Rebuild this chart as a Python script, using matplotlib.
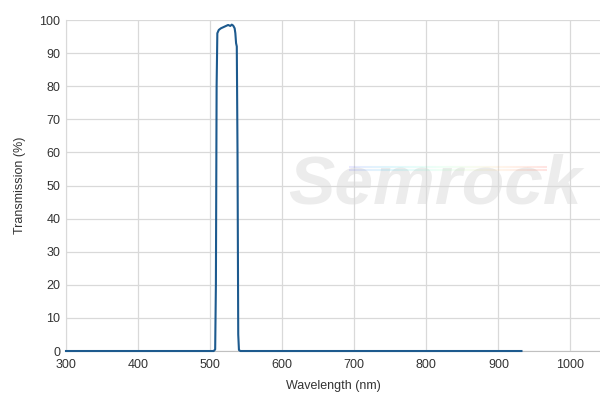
import matplotlib
matplotlib.use("Agg")
import matplotlib.pyplot as plt
import numpy as np
from matplotlib.collections import LineCollection

plt.rcParams["font.family"] = ["Liberation Sans", "DejaVu Sans"]

# transmission curve
wavelength = [300, 505, 507, 508, 509, 510, 512, 515, 518, 520, 523, 525,
              528, 530, 532, 534, 535, 536, 537, 538, 539, 540, 542, 932]
transmission = [0, 0, 0.5, 20, 80, 96, 97, 97.5, 97.8, 98, 98.3, 98.5,
                98.2, 98.6, 98.3, 97.5, 96, 93, 92, 60, 5, 0.3, 0, 0]

x_ticks = [300, 400, 500, 600, 700, 800, 900, 1000]
y_ticks = [0, 10, 20, 30, 40, 50, 60, 70, 80, 90, 100]

fig = plt.figure(figsize=(6.0, 4.05), dpi=100)
fig.patch.set_facecolor("white")
ax = fig.add_axes([0.11, 0.1333, 0.89, 0.8173])
ax.set_facecolor("white")

ax.set_xlim(300, 1041)
ax.set_ylim(0, 100)
ax.set_xticks(x_ticks)
ax.set_yticks(y_ticks)
ax.grid(True, color="#d9d9d9", linewidth=0.9)
ax.set_axisbelow(True)
for side in ("top", "right"):
    ax.spines[side].set_visible(False)
ax.spines["left"].set_color("#d9d9d9")
ax.spines["bottom"].set_color("#c0c0c0")
ax.tick_params(axis="both", length=0, labelsize=9, colors="#333333")
ax.tick_params(axis="x", pad=6)
ax.tick_params(axis="y", pad=4)

# watermark
ax.text(0.69, 0.50, "Semrock", transform=ax.transAxes, ha="center", va="center",
        fontsize=50, fontweight="bold", fontstyle="italic", color="#ececec", zorder=0.5)
grad_x = np.linspace(0.53, 0.90, 60)
cmap = plt.get_cmap("rainbow")
for yy in (0.557, 0.547):
    pts = np.array([grad_x, np.full_like(grad_x, yy)]).T.reshape(-1, 1, 2)
    segs = np.concatenate([pts[:-1], pts[1:]], axis=1)
    lc = LineCollection(segs, colors=cmap(np.linspace(0.1, 0.95, len(segs))),
                        alpha=0.12, linewidth=1.5, transform=ax.transAxes, zorder=0.6)
    ax.add_collection(lc)

ax.plot(wavelength, transmission, color="#1d5a8e", linewidth=1.5, zorder=3,
        solid_joinstyle="round", clip_on=False)

ax.set_xlabel("Wavelength (nm)", fontsize=9, color="#333333", labelpad=6)
ax.set_ylabel("Transmission (%)", fontsize=9, color="#333333", labelpad=10)

fig.savefig("out.png", dpi=100)
plt.close(fig)
